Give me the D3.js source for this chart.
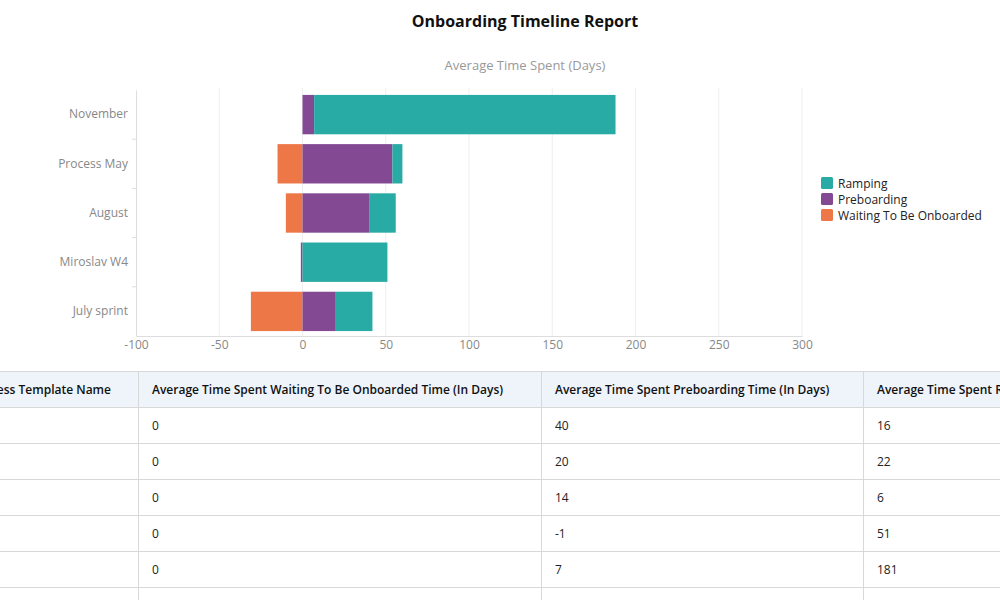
<!DOCTYPE html>
<html>
<head>
<meta charset="utf-8">
<script src="https://cdn.jsdelivr.net/npm/d3@7"></script>
<style>
  body { margin: 0; width: 1000px; height: 600px; overflow: hidden; background: #fff; font-family: "Open Sans", sans-serif; position: relative; }
  #chart { position: absolute; left: 0; top: 0; }
  #tableWrap { position: absolute; top: 371px; left: -43px; }
  table { border-collapse: collapse; font-size: 12px; color: #222; table-layout: fixed; }
  th, td { border: 1px solid #d8d8d8; padding: 0 13px; height: 36px; text-align: left; white-space: nowrap; overflow: hidden; box-sizing: border-box; }
  th { background: #eef4fa; font-weight: 600; color: #111; }
</style>
</head>
<body>
<div id="chart"></div>
<div id="tableWrap"></div>
<script>
// chart data
const categories = ["November", "Process May", "August", "Miroslav W4", "July sprint"];
const waiting = [0, -15, -10, 0, -31];
const preboarding = [7, 54, 40, -1, 20];
const ramping = [181, 6, 16, 51, 22];
const seriesNames = ["Waiting To Be Onboarded", "Preboarding", "Ramping"];
const legendOrder = ["Ramping", "Preboarding", "Waiting To Be Onboarded"];
const xTicks = [-100, -50, 0, 50, 100, 150, 200, 250, 300];

// table data
const tableHeaders = [
  "Process Template Name",
  "Average Time Spent Waiting To Be Onboarded Time (In Days)",
  "Average Time Spent Preboarding Time (In Days)",
  "Average Time Spent Ramping Time (In Days)"
];
const tableWaiting = [0, 0, 0, 0, 0];
const tablePreboarding = [40, 20, 14, -1, 7];
const tableRamping = [16, 22, 6, 51, 181];

const colors = {
  "Ramping": "#28aba5",
  "Preboarding": "#834a93",
  "Waiting To Be Onboarded": "#ee7747"
};

const width = 1000, height = 372;
const margin = { top: 90, left: 136, right: 198, bottom: 36 };
const innerW = width - margin.left - margin.right;
const innerH = height - margin.top - margin.bottom;

const svg = d3.select("#chart").append("svg")
  .attr("width", width)
  .attr("height", height)
  .style("font-family", "'Open Sans', sans-serif");

// title
svg.append("text")
  .attr("x", 525).attr("y", 27)
  .attr("text-anchor", "middle")
  .style("font-size", "16px")
  .style("font-weight", "700")
  .attr("fill", "#111")
  .text("Onboarding Timeline Report");

svg.append("text")
  .attr("x", 525).attr("y", 70)
  .attr("text-anchor", "middle")
  .style("font-size", "13px")
  .attr("fill", "#999")
  .text("Average Time Spent (Days)");

const g = svg.append("g").attr("transform", `translate(${margin.left},${margin.top})`);

const x = d3.scaleLinear().domain([-100, 300]).range([0, innerW]);
const y = d3.scaleBand().domain(categories).range([0, innerH]).paddingInner(0.2).paddingOuter(0.1);

// grid
g.append("g").selectAll("line")
  .data(xTicks.slice(1))
  .join("line")
  .attr("x1", d => x(d)).attr("x2", d => x(d))
  .attr("y1", -2).attr("y2", innerH)
  .attr("stroke", "#eeeeee");

// stacked data
const rows = categories.map((c, i) => ({
  cat: c,
  "Waiting To Be Onboarded": waiting[i],
  "Preboarding": preboarding[i],
  "Ramping": ramping[i]
}));
const stacked = d3.stack().keys(seriesNames).offset(d3.stackOffsetDiverging)(rows);

g.append("g").selectAll("g")
  .data(stacked)
  .join("g")
  .attr("fill", d => colors[d.key])
  .selectAll("rect")
  .data(d => d)
  .join("rect")
  .attr("x", d => x(Math.min(d[0], d[1])))
  .attr("width", d => Math.abs(x(d[1]) - x(d[0])))
  .attr("y", d => y(d.data.cat))
  .attr("height", y.bandwidth());

// x axis
const xAxis = g.append("g")
  .attr("transform", `translate(0,${innerH})`)
  .call(d3.axisBottom(x).tickValues(xTicks).tickFormat(d => String(d)).tickSize(0).tickPadding(4));
xAxis.select(".domain").attr("stroke", "#dddddd");
xAxis.selectAll("text").attr("fill", "#888").style("font-size", "12px").style("font-family", "'Open Sans', sans-serif");

// y axis
const yAxis = g.append("g")
  .call(d3.axisLeft(y).tickSize(0).tickPadding(8));
yAxis.select(".domain").attr("stroke", "#dddddd");
yAxis.selectAll("text").attr("fill", "#888").style("font-size", "12px").style("font-family", "'Open Sans', sans-serif");

// boundary ticks between categories
g.append("g").selectAll("line")
  .data(categories.slice(1))
  .join("line")
  .attr("x1", -4).attr("x2", 0)
  .attr("y1", d => y(d) - y.step() * y.paddingInner() / 2)
  .attr("y2", d => y(d) - y.step() * y.paddingInner() / 2)
  .attr("stroke", "#dddddd");

// legend
const legend = svg.append("g").attr("transform", "translate(821,177)");
const li = legend.selectAll("g")
  .data(legendOrder)
  .join("g")
  .attr("transform", (d, i) => `translate(0,${i * 16})`);
li.append("rect")
  .attr("width", 12).attr("height", 12).attr("rx", 1.5)
  .attr("fill", d => colors[d]);
li.append("text")
  .attr("x", 17).attr("y", 10.5)
  .style("font-size", "12px")
  .attr("fill", "#222")
  .text(d => d);

// table
const colWidths = [181, 403, 322, 360];
const table = d3.select("#tableWrap").append("table")
  .style("width", d3.sum(colWidths) + "px");
table.append("colgroup").selectAll("col")
  .data(colWidths)
  .join("col")
  .style("width", d => d + "px");
table.append("thead").append("tr")
  .selectAll("th")
  .data(tableHeaders)
  .join("th")
  .text(d => d);
const tableRows = tableWaiting.map((w, i) => ["", w, tablePreboarding[i], tableRamping[i]]);
tableRows.push(["", "", "", ""]);
table.append("tbody").selectAll("tr")
  .data(tableRows)
  .join("tr")
  .selectAll("td")
  .data(d => d)
  .join("td")
  .text(d => d);
</script>
</body>
</html>
